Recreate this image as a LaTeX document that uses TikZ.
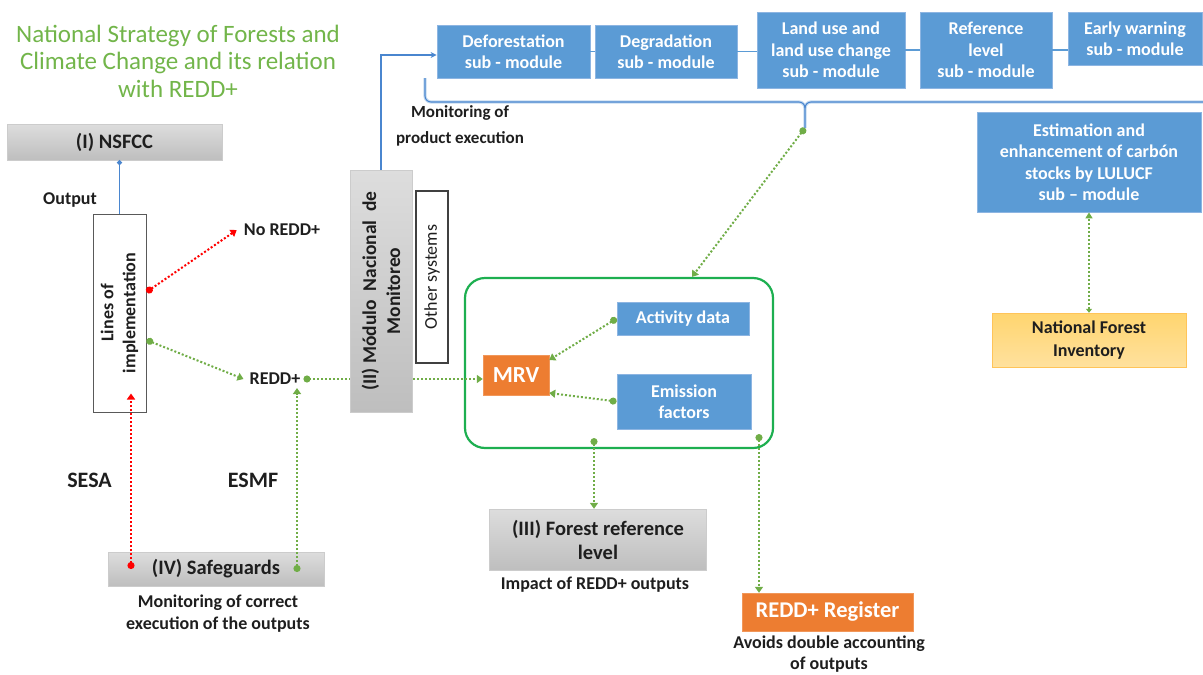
\documentclass[tikz,border=0pt]{standalone}
\usepackage{fontspec}
\setmainfont{Carlito}
\usetikzlibrary{arrows.meta,calc}

\definecolor{ttl}{HTML}{72B54A}
\definecolor{grn}{HTML}{70AD47}
\definecolor{frm}{HTML}{1DAF50}
\definecolor{subfill}{HTML}{5B9BD5}
\definecolor{subedge}{HTML}{8DB5E2}
\definecolor{bline}{HTML}{4A86CF}
\definecolor{bhalo}{HTML}{C5DAF0}
\definecolor{graytop}{HTML}{DDDDDD}
\definecolor{graybot}{HTML}{BEBEBE}
\definecolor{orng}{HTML}{ED7D31}
\definecolor{nfitop}{HTML}{FFD56F}
\definecolor{nfibot}{HTML}{FFE19E}
\definecolor{ink}{HTML}{1E1E1E}

\newcommand\fsz[2]{\fontsize{#1}{#2}\selectfont}

\begin{document}
\begin{tikzpicture}[x=1pt,y=-1pt,
  subbox/.style={draw=subedge, fill=subfill, text=white, line width=0.8pt,
    font=\bfseries\fsz{18}{21.5}, align=center, inner sep=0pt},
  graybox/.style={draw=gray!40, top color=graytop, bottom color=graybot,
    text=ink, font=\bfseries\fsz{20.5}{24}, align=center, inner sep=0pt},
  note/.style={text=ink, font=\bfseries\fsz{18}{22}, align=center, inner sep=3pt},
  gline/.style={draw=grn, line width=2pt, dash pattern=on 2pt off 2pt},
  rline/.style={draw=red, line width=2pt, dash pattern=on 2pt off 2pt},
  gflow/.style={gline, {Circle[length=7pt,fill=grn]}-{Triangle[length=6pt,width=8pt]}},
  rflow/.style={rline, {Circle[length=7pt,fill=red]}-{Triangle[length=6pt,width=8pt]}},
  blueline/.style={draw=bline, line width=1.3pt}
]
\useasboundingbox (0,0) rectangle (1203,675);

% heading
\node[text=ttl, font=\fsz{25}{27.5}, align=center] (title) at (178,61)
  {National Strategy of Forests and\\Climate Change and its relation\\with REDD+};

% (I) strategy and its lines of implementation
\node[graybox, minimum width=215, minimum height=36] (nsfcc) at (114.5,142) {(I) NSFCC};
\node[draw=black!65, fill=white, line width=1pt, minimum width=53, minimum height=198] (lines) at (119.5,313) {};
\node[rotate=90, text=ink, font=\bfseries\fsz{18}{22}, align=center] (linestxt) at (lines.center) {Lines of\\implementation};
\draw[blueline, {Circle[length=5pt]}-] (lines.north |- nsfcc.south) -- (lines.north);
\node[note] (output) at (70,200) {Output};

\node[note] (noredd) at (282,230) {No REDD+};
\node[note] (redd) at (275,379) {REDD+};
\draw[rflow] ([yshift=21pt]lines.east) -- ([xshift=-4pt]noredd.west);
\draw[gflow] ([yshift=-27pt]lines.east) -- ([xshift=-3pt]redd.west);

% MRV frame
\node[draw=frm, line width=2.2pt, rounded corners=20pt, minimum width=308, minimum height=170] (frame) at (619,363) {};
\node[draw=orng!80!white, fill=orng, text=white, font=\bfseries\fsz{23}{26},
  minimum width=66, minimum height=40, inner sep=0pt] (mrv) at (516,375) {MRV};
\node[subbox, minimum width=132, minimum height=33] (act) at (683,318.5) {Activity data};
\node[subbox, minimum width=134, minimum height=55] (emis) at (684,401.5) {Emission\\factors};
\draw[gflow] (act.west) -- ([yshift=15pt]mrv.east);
\draw[gflow] (emis.west) -- ([yshift=-18pt]mrv.east);

% REDD+ into MRV, passing behind the monitoring module
\draw[gline, {Circle[length=7pt,fill=grn]}-{Triangle[length=6pt,width=8pt]}] (redd.east) -- (redd.east -| mrv.west);

% (II) national monitoring module
\node[graybox, minimum width=62, minimum height=242] (modulo) at (381,291) {};
\node[rotate=90, text=ink, font=\bfseries\fsz{19.5}{24}, align=center] (modtxt) at (modulo.center)
  {(II) Módulo\ \ Nacional\ \ de\\Monitoreo};
\node[draw=black!75, fill=white, line width=1.1pt, minimum width=32, minimum height=172] (other) at (432,277) {};
\node[rotate=90, text=ink, font=\fsz{18}{20}] (othertxt) at (other.center) {Other systems};

% sub-modules
\node[subbox, minimum width=153, minimum height=53] (defo) at (513.5,51.5) {Deforestation\\sub - module};
\node[subbox, minimum width=142, minimum height=53] (degr) at (666,51.5) {Degradation\\sub - module};
\node[subbox, minimum width=148, minimum height=76] (land) at (831,50) {Land use and\\land use change\\sub - module};
\node[subbox, minimum width=132, minimum height=76] (refl) at (986,50) {Reference\\level\\sub - module};
\node[subbox, minimum width=134, minimum height=53] (early) at (1135,38.5) {Early warning\\sub - module};
\draw[draw=subfill, line width=1.2pt] (defo.east) -- (degr.west);
\draw[draw=subfill, line width=1.2pt] (degr.east) -- (degr.east -| land.west);
\draw[draw=subfill, line width=1.2pt] (land.east) -- (refl.west);
\draw[draw=subfill, line width=1.2pt] (refl.east) -- (refl.east -| early.west);

\draw[blueline, -{Stealth[length=6pt,width=6pt]}] (modulo.north) |- ([yshift=-3.5pt]defo.west);
\node[note, font=\bfseries\fsz{17}{26}] (monprod) at (460,126) {Monitoring of\\product execution};

% brace gathering the sub-modules
\coordinate (bracetip) at (805,128);
\foreach \w/\c in {3.2pt/bhalo, 1.1pt/bline}{
  \draw[line width=\w, draw=\c, line join=round]
    (425,78) -- (425,96) to[out=-90,in=180] (431,102) -- (799,102)
    to[out=0,in=90] (805,108) -- (bracetip);
  \draw[line width=\w, draw=\c, line join=round]
    (805,108) to[out=90,in=180] (811,102) -- (1210,102);
}
\draw[gflow] (bracetip) -- ([xshift=73pt]frame.north);

% carbon stocks and forest inventory
\node[subbox, minimum width=224, minimum height=100] (est) at (1089,162)
  {Estimation and\\enhancement of carbón\\stocks by LULUCF\\sub -- module};
\node[draw=nfitop!80!orange, top color=nfitop, bottom color=nfibot, text=ink,
  font=\bfseries\fsz{18}{23}, align=center, minimum width=194, minimum height=54, inner sep=0pt] (nfi) at (1089,340)
  {National Forest\\Inventory};
\draw[gline, {Triangle[length=4pt,width=6pt]}-{Triangle[length=6pt,width=7pt]}] (nfi.north) -- (est.south);

% outputs of the MRV frame
\node[graybox, minimum width=217, minimum height=61] (forest) at (598,539.5) {(III) Forest reference\\level};
\node[note] (impact) at (595,585) {Impact of REDD+ outputs};
\node[draw=orng!80!white, fill=orng, text=white, font=\bfseries\fsz{22.5}{25},
  minimum width=171, minimum height=38, inner sep=0pt] (reg) at (827.5,612) {REDD+ Register};
\node[note, font=\bfseries\fsz{18}{21}] (avoids) at (829,654) {Avoids double accounting\\of outputs};
\coordinate (frl) at ([xshift=-25pt,yshift=11pt]frame.south);
\coordinate (frr) at ([xshift=140pt,yshift=15pt]frame.south);
\draw[gflow] (frl) -- (frl |- forest.north);
\draw[gflow] (frr) -- (frr |- reg.north);

% (IV) safeguards
\node[graybox, minimum width=216, minimum height=34] (safe) at (216,569) {(IV) Safeguards};
\node[note] (mcorr) at (218,614) {Monitoring of correct\\execution of the outputs};
\node[text=ink, font=\bfseries\fsz{22}{24}] (sesa) at (89.5,480) {SESA};
\node[text=ink, font=\bfseries\fsz{22}{24}] (esmf) at (253,480) {ESMF};
\coordinate (sesadot) at ([xshift=-85pt]safe.center);
\coordinate (esmfdot) at ([xshift=81pt,yshift=-3pt]safe.center);
\draw[rflow] (sesadot) -- ($(sesadot |- lines.south)+(0,-19)$);
\draw[gflow] (esmfdot) -- (esmfdot |- redd.south);
\end{tikzpicture}
\end{document}
